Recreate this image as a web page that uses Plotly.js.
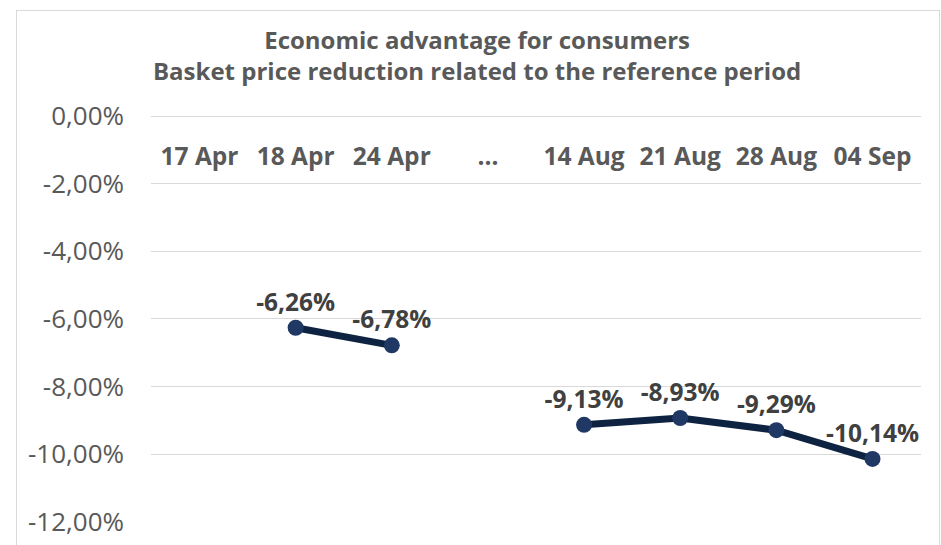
<!DOCTYPE html>
<html>
<head>
<meta charset="utf-8">
<script src="https://cdn.plot.ly/plotly-3.0.1.min.js"></script>
<style>
  html, body { margin: 0; padding: 0; overflow: hidden; background: #fff; }
  #chart { width: 941px; height: 545px; }
  #frame { position: absolute; left: 16px; top: 10px; width: 922px; height: 600px; border: 1px solid #d9d9d9; pointer-events: none; }
</style>
</head>
<body>
<div id="chart"></div>
<div id="frame"></div>
<script>
const categories = ['17 Apr', '18 Apr', '24 Apr', '…', '14 Aug', '21 Aug', '28 Aug', '04 Sep'];
const values = [null, -6.26, -6.78, null, -9.13, -8.93, -9.29, -10.14];
const yTickVals = [0, -2, -4, -6, -8, -10, -12];
const yTickText = ['0,00%', '-2,00%', '-4,00%', '-6,00%', '-8,00%', '-10,00%', '-12,00%'];

const labels = values.map(v => v === null ? '' : v.toFixed(2).replace('.', ',') + '%');
const FONT = "'Open Sans', 'Noto Sans', sans-serif";

const trace = {
  type: 'scatter',
  mode: 'lines+markers+text',
  x: categories,
  y: values,
  text: labels,
  textposition: 'top center',
  textfont: { family: FONT, size: 24.5, color: '#404040', weight: 'bold' },
  connectgaps: false,
  line: { color: '#0e2341', width: 7 },
  marker: { color: '#203864', size: 16 },
  cliponaxis: false,
  hoverinfo: 'skip'
};

const layout = {
  width: 941,
  height: 545,
  margin: { l: 151, r: 20, t: 115, b: 23 },
  paper_bgcolor: '#ffffff',
  plot_bgcolor: '#ffffff',
  showlegend: false,
  title: {
    text: '<b>Economic advantage for consumers<br>Basket price reduction related to the reference period</b>',
    font: { family: FONT, size: 24, color: '#595959' },
    x: 0.507, xanchor: 'center', y: 0.9105, yanchor: 'top'
  },
  xaxis: {
    type: 'category',
    side: 'bottom',
    anchor: 'free',
    position: 1,
    ticks: '',
    ticklabelstandoff: 24,
    showgrid: false,
    showline: false,
    zeroline: false,
    tickfont: { family: FONT, size: 24.5, color: '#595959', weight: 'bold' },
    fixedrange: true
  },
  yaxis: {
    domain: [0, 1],
    range: [-12.004, 0.03],
    tickvals: yTickVals,
    ticktext: yTickText,
    ticks: '',
    ticklabelstandoff: 26,
    showgrid: true,
    gridcolor: '#d9d9d9',
    gridwidth: 1,
    zeroline: false,
    showline: false,
    tickfont: { family: FONT, size: 26, color: '#595959' },
    fixedrange: true
  }
};

Plotly.newPlot('chart', [trace], layout, { displayModeBar: false, staticPlot: true });
</script>
</body>
</html>
